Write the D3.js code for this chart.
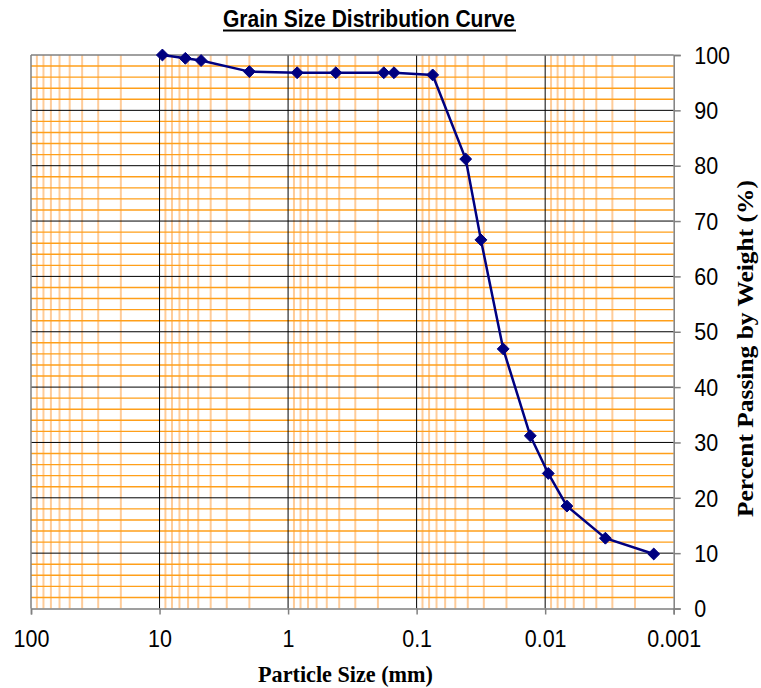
<!DOCTYPE html>
<html><head><meta charset="utf-8">
<script src="https://cdn.jsdelivr.net/npm/d3@7"></script>
<style>body{margin:0;background:#fff}svg{display:block}</style>
</head><body>
<svg id="c" width="761" height="688"></svg>
<script>
const sizes = [9.5, 6.3, 4.75, 2.0, 0.85, 0.425, 0.18, 0.15, 0.075, 0.0415, 0.0316, 0.0212, 0.01305, 0.00946, 0.00677, 0.0034, 0.00143];
const passing = [100, 99.4, 99.0, 97.0, 96.8, 96.8, 96.8, 96.8, 96.4, 81.2, 66.6, 46.9, 31.2, 24.4, 18.5, 12.7, 9.85];
const xTicks = [100, 10, 1, 0.1, 0.01, 0.001];
const xTickLabels = ["100", "10", "1", "0.1", "0.01", "0.001"];
const yTicks = [0, 10, 20, 30, 40, 50, 60, 70, 80, 90, 100];
const title = "Grain Size Distribution Curve";
const xTitle = "Particle Size (mm)";
const yTitle = "Percent Passing by Weight (%)";

const svg = d3.select("#c");
const L = 31, R = 673.7, T = 55, B = 608.5;
const x = d3.scaleLog().domain([100, 0.001]).range([L, R]);
const y = d3.scaleLinear().domain([0, 100]).range([B, T]);
const sans = "Liberation Sans, Arial, sans-serif";
const serif = "Liberation Serif, Times New Roman, serif";

// minor vertical grid
const minorX = [];
for (let e = -3; e < 2; e++) for (let m = 2; m <= 9; m++) minorX.push(m * Math.pow(10, e));
svg.append("g").selectAll("line").data(minorX).join("line")
  .attr("x1", d => x(d)).attr("x2", d => x(d)).attr("y1", T).attr("y2", B)
  .attr("stroke", "#FFCC99").attr("stroke-width", 2);
// minor horizontal grid
const minorY = d3.range(0, 101, 2).filter(v => v % 10 !== 0);
svg.append("g").selectAll("line").data(minorY).join("line")
  .attr("x1", L).attr("x2", R).attr("y1", d => y(d)).attr("y2", d => y(d))
  .attr("stroke", "#FF9F1A").attr("stroke-width", 1.4);
// major grids
svg.append("g").selectAll("line").data(xTicks.slice(1, -1)).join("line")
  .attr("x1", d => x(d)).attr("x2", d => x(d)).attr("y1", T).attr("y2", B)
  .attr("stroke", "#000").attr("stroke-width", 1);
svg.append("g").selectAll("line").data(yTicks.slice(1, -1)).join("line")
  .attr("x1", L).attr("x2", R).attr("y1", d => y(d)).attr("y2", d => y(d))
  .attr("stroke", "#000").attr("stroke-width", 1);
// frame
svg.append("line").attr("x1", L).attr("x2", R).attr("y1", T).attr("y2", T).attr("stroke", "#808080").attr("stroke-width", 1.5);
svg.append("line").attr("x1", L).attr("x2", L).attr("y1", T).attr("y2", B).attr("stroke", "#808080").attr("stroke-width", 1.5);

// bottom axis
const xAxis = d3.axisBottom(x).tickValues(xTicks).tickFormat((d, i) => xTickLabels[i]).tickSize(6);
const gx = svg.append("g").attr("transform", `translate(0,${B})`).call(xAxis);
gx.select(".domain").attr("stroke", "#808080").attr("stroke-width", 1.5);
gx.selectAll(".tick line").attr("stroke", "#808080").attr("stroke-width", 1.5);
gx.selectAll(".tick text").attr("y", 0).attr("dy", null)
  .attr("transform", "translate(0,38.8) scale(1,1.07)")
  .attr("font-family", sans).attr("font-size", 21.5).attr("fill", "#000");

// right axis
const yAxis = d3.axisRight(y).tickValues(yTicks).tickSize(7);
const gy = svg.append("g").attr("transform", `translate(${R},0)`).call(yAxis);
gy.select(".domain").attr("stroke", "#808080").attr("stroke-width", 1.5);
gy.selectAll(".tick line").attr("stroke", "#808080").attr("stroke-width", 1.5);
gy.selectAll(".tick text").attr("x", 0).attr("y", 0).attr("dy", null)
  .attr("transform", "translate(20.5,8.2) scale(1,1.07)")
  .attr("font-family", sans).attr("font-size", 21.5).attr("fill", "#000");

// data line
const pts = sizes.map((s, i) => [s, passing[i]]);
svg.append("path").datum(pts)
  .attr("d", d3.line().x(d => x(d[0])).y(d => y(d[1])))
  .attr("fill", "none").attr("stroke", "#000080").attr("stroke-width", 2.5);
svg.append("g").selectAll("path").data(pts).join("path")
  .attr("transform", d => `translate(${x(d[0])},${y(d[1])})`)
  .attr("d", d3.symbol(d3.symbolDiamond2, 90)())
  .attr("fill", "#000080").attr("stroke", "#000080").attr("stroke-width", 1);

// titles
svg.append("text").attr("x", 369).attr("y", 26.5).attr("text-anchor", "middle")
  .attr("font-family", "Liberation Sans Narrow, Arial Narrow, Liberation Sans, Arial, sans-serif")
  .attr("font-weight", "bold").attr("font-size", 23)
  .attr("textLength", 292).attr("lengthAdjust", "spacingAndGlyphs")
  .text(title);
svg.append("line").attr("x1", 223).attr("x2", 516).attr("y1", 30.5).attr("y2", 30.5).attr("stroke", "#000").attr("stroke-width", 2);

svg.append("text").attr("x", 345.5).attr("y", 682).attr("text-anchor", "middle")
  .attr("font-family", serif).attr("font-weight", "bold").attr("font-size", 22.5)
  .attr("textLength", 175).attr("lengthAdjust", "spacingAndGlyphs")
  .text(xTitle);
svg.append("text").attr("transform", "translate(753,348.5) rotate(-90)").attr("text-anchor", "middle")
  .attr("font-family", serif).attr("font-weight", "bold").attr("font-size", 22.5)
  .attr("textLength", 337).attr("lengthAdjust", "spacingAndGlyphs")
  .text(yTitle);
</script>
</body></html>
